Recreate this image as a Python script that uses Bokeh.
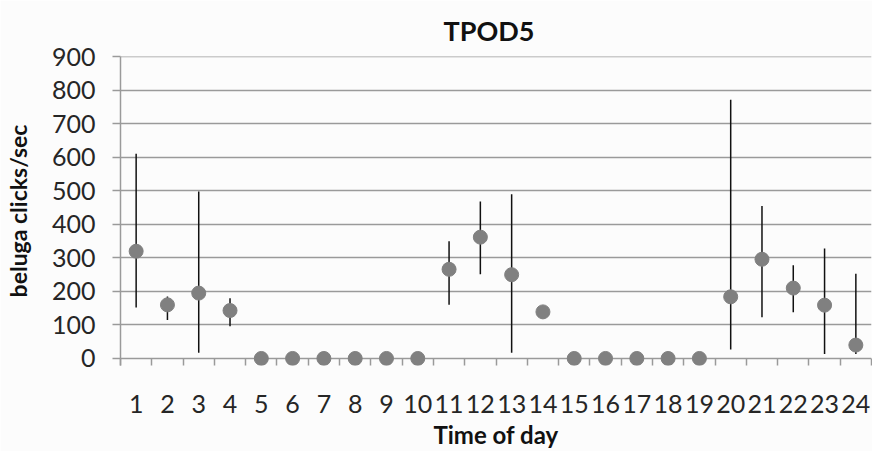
from bokeh.plotting import figure
from bokeh.models import FixedTicker, Range1d, ColumnDataSource
from bokeh.embed import file_html
from bokeh.resources import INLINE

# Hourly mean beluga click rates with their lower/upper range
hours = list(range(1, 25))
mean_clicks = [320, 160, 195, 143, 0, 0, 0, 0, 0, 0, 266, 362,
               250, 139, 0, 0, 0, 0, 0, 184, 296, 210, 159, 40]
low_clicks = [152, 115, 17, 96, None, None, None, None, None, None, 160, 251,
              17, None, None, None, None, None, None, 27, 123, 138, 13, 13]
high_clicks = [611, 185, 498, 180, None, None, None, None, None, None, 350, 468,
               490, None, None, None, None, None, None, 772, 455, 278, 328, 253]
y_ticks = [0, 100, 200, 300, 400, 500, 600, 700, 800, 900]

FONT = "Lato"
TEXT = "#262626"

p = figure(width=872, height=451, output_backend="svg", toolbar_location=None,
           x_range=Range1d(0.5, 24.5), y_range=Range1d(-21, 901),
           title="TPOD5", min_border_left=120, min_border_right=1,
           min_border_top=56, min_border_bottom=82)
p.background_fill_color = "#fcfcfc"
p.border_fill_color = "#fcfcfc"
p.outline_line_color = None

p.title.align = "left"
p.title.vertical_align = "top"
p.title.text_font = FONT
p.title.text_font_size = "27px"
p.title.text_font_style = "bold"
p.title.text_color = "#111111"
p.title.offset = 323
p.title.standoff = 16

# Whiskers
bars = ColumnDataSource(dict(
    x=[h for h, lo in zip(hours, low_clicks) if lo is not None],
    lo=[lo for lo in low_clicks if lo is not None],
    hi=[hi for hi in high_clicks if hi is not None],
))
p.segment(x0="x", y0="lo", x1="x", y1="hi", source=bars,
          line_color="#111111", line_width=1.5)

# Means
p.scatter(hours, mean_clicks, size=14, fill_color="#808080",
          line_color="#808080")

# Horizontal grid
p.xgrid.visible = False
p.ygrid.ticker = FixedTicker(ticks=y_ticks)
p.ygrid.grid_line_color = "#9a9a9a"
p.ygrid.grid_line_width = 1.5

# X axis: labels at the hours, tick marks between them
xa = p.xaxis[0]
xa.ticker = FixedTicker(ticks=hours, minor_ticks=[h + 0.5 for h in [0] + hours])
xa.axis_line_color = None
xa.major_tick_line_color = None
xa.minor_tick_line_color = "#9a9a9a"
xa.minor_tick_line_width = 1.5
xa.minor_tick_in = 7
xa.minor_tick_out = 0
xa.major_label_standoff = 23
xa.major_label_text_font = FONT
xa.major_label_text_font_size = "25px"
xa.major_label_text_color = TEXT
xa.axis_label = "Time of day"
xa.axis_label_text_font = FONT
xa.axis_label_text_font_size = "24px"
xa.axis_label_text_font_style = "bold"
xa.axis_label_text_color = "#111111"
xa.axis_label_standoff = 4

ya = p.yaxis[0]
ya.ticker = FixedTicker(ticks=y_ticks)
ya.axis_line_color = "#9a9a9a"
ya.axis_line_width = 1.5
ya.major_tick_line_color = "#9a9a9a"
ya.major_tick_line_width = 1.5
ya.major_tick_in = 0
ya.major_tick_out = 8
ya.minor_tick_line_color = None
ya.major_label_standoff = 17
ya.major_label_text_font = FONT
ya.major_label_text_font_size = "25px"
ya.major_label_text_color = TEXT
ya.axis_label = "beluga clicks/sec"
ya.axis_label_text_font = FONT
ya.axis_label_text_font_size = "23px"
ya.axis_label_text_font_style = "bold"
ya.axis_label_text_color = "#111111"
ya.axis_label_standoff = 17

open("out.html", "w").write(file_html(p, INLINE))
